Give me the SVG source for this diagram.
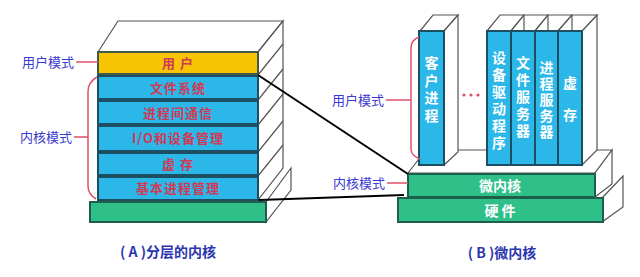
<svg xmlns="http://www.w3.org/2000/svg" width="640" height="277" viewBox="0 0 640 277">
<style>
.face{fill:#ffffff;stroke:#555;stroke-width:1.2}
.blue{fill:#2bb7e8;stroke:#1c4f62;stroke-width:2}
.yellow{fill:#f8c404;stroke:#3d5a4a;stroke-width:2}
.green{fill:#2fc08a;stroke:#1e5e4a;stroke-width:2}
.rt{font-family:"Noto Sans CJK SC","Liberation Sans",sans-serif;font-size:13px;font-weight:bold;fill:#d03a55;text-anchor:middle;letter-spacing:1px}
.wt{font-family:"Noto Sans CJK SC","Liberation Sans",sans-serif;font-size:14px;font-weight:bold;fill:#ffffff;text-anchor:middle}
.vt{font-family:"Noto Sans CJK SC","Liberation Sans",sans-serif;font-size:14px;font-weight:bold;fill:#ffffff;writing-mode:vertical-rl;text-anchor:start}
.lb{font-family:"Noto Sans CJK SC","Liberation Sans",sans-serif;font-size:13px;fill:#3a3ad0;text-anchor:end}
.cap{font-family:"Noto Sans CJK SC","Liberation Sans",sans-serif;font-size:14px;font-weight:bold;fill:#2a35b0;text-anchor:middle}
.red{fill:none;stroke:#e0506a;stroke-width:1.5}
.blk{stroke:#000;stroke-width:2;fill:none}
.st{stroke:#555;stroke-width:1.2;fill:none}
</style>

<g id="left-stack">
  <polygon class="face" points="266,202 291,168 291,190 266,222"/>
  <polygon class="face" points="98,52 118,21 283,21 258,52"/>
  <polygon class="face" points="258,52 283,21 283,168 258,200"/>
  <path class="st" d="M258,75 L283,44 M258,100 L283,69 M258,125 L283,94 M258,152 L283,121 M258,176 L283,145"/>
  <rect class="green" x="90" y="202" width="176" height="20"/>
  <rect class="yellow" x="98" y="52" width="160" height="22"/>
  <text class="rt" x="178" y="68">用 户</text>
  <rect class="blue" x="98" y="76" width="160" height="23"/>
  <text class="rt" x="178" y="93">文件系统</text>
  <rect class="blue" x="98" y="101" width="160" height="23"/>
  <text class="rt" x="178" y="118">进程间通信</text>
  <rect class="blue" x="98" y="126" width="160" height="25"/>
  <text class="rt" x="178" y="143">I/O和设备管理</text>
  <rect class="blue" x="98" y="153" width="160" height="22"/>
  <text class="rt" x="178" y="169">虚  存</text>
  <rect class="blue" x="98" y="177" width="160" height="23"/>
  <text class="rt" x="178" y="193">基本进程管理</text>
</g>

<g id="left-labels">
  <text class="lb" x="74" y="67">用户模式</text>
  <line class="red" x1="76" y1="62" x2="98" y2="62"/>
  <text class="lb" x="72" y="142">内核模式</text>
  <path class="red" d="M74,137 L88,137 M97,77 Q88,82 88,92 L88,186 Q88,194 96,199"/>
</g>

<g id="right-platforms">
  <polygon class="face" points="602,198 623,176 623,207 602,222"/>
  <polygon class="face" points="408,173 426,150 612,150 595,173"/>
  <polygon class="face" points="595,173 612,150 612,184 595,197"/>
  <rect class="green" x="398" y="198" width="205" height="24"/>
  <text class="wt" x="500" y="216">硬  件</text>
  <rect class="green" x="408" y="174" width="187" height="23"/>
  <text class="wt" x="500" y="191">微内核</text>
</g>

<g id="client-column">
  <polygon class="face" points="420,31 433,15 458,15 444,31"/>
  <polygon class="face" points="444,31 458,15 458,152 444,165"/>
  <rect class="blue" x="419" y="31" width="25" height="134"/>
  <text class="vt" x="431.5" y="56" letter-spacing="3.5">客户进程</text>
</g>

<g id="dots" fill="#e0506a">
  <circle cx="464" cy="95" r="1.6"/>
  <circle cx="471" cy="95" r="1.6"/>
  <circle cx="478" cy="95" r="1.6"/>
</g>

<g id="server-columns">
  <polygon class="face" points="582,31 597,15 597,150 582,165"/>
  <polygon class="face" points="487,31 500,15 524,15 511,31"/>
  <polygon class="face" points="511,31 524,15 548,15 535,31"/>
  <polygon class="face" points="535,31 548,15 572,15 558,31"/>
  <polygon class="face" points="558,31 572,15 597,15 582,31"/>
  <path class="st" d="M524,15 L524,31 M548,15 L548,31 M572,15 L572,31"/>
  <rect class="blue" x="487" y="31" width="24" height="134"/>
  <rect class="blue" x="511" y="31" width="24" height="134"/>
  <rect class="blue" x="535" y="31" width="23" height="134"/>
  <rect class="blue" x="558" y="31" width="24" height="134"/>
  <text class="vt" x="499" y="51" letter-spacing="3">设备驱动程序</text>
  <text class="vt" x="523" y="56" letter-spacing="3">文件服务器</text>
  <text class="vt" x="546.5" y="61" letter-spacing="2">进程服务器</text>
  <text class="vt" x="570" y="76" letter-spacing="18">虚存</text>
</g>

<g id="right-labels">
  <text class="lb" x="384" y="105">用户模式</text>
  <path class="red" d="M386,100 L411,100 M419,37 Q411,40 411,48 L411,150 Q412,156 420,159"/>
  <text class="lb" x="385" y="188">内核模式</text>
  <line class="red" x1="387" y1="183" x2="408" y2="183"/>
</g>

<g id="connectors">
  <line class="blk" x1="258" y1="75" x2="408" y2="174"/>
  <line class="blk" x1="259" y1="200" x2="404" y2="195"/>
</g>

<g id="captions">
  <text class="cap" x="168" y="257">( A )分层的内核</text>
  <text class="cap" x="502" y="258">( B )微内核</text>
</g>
</svg>
